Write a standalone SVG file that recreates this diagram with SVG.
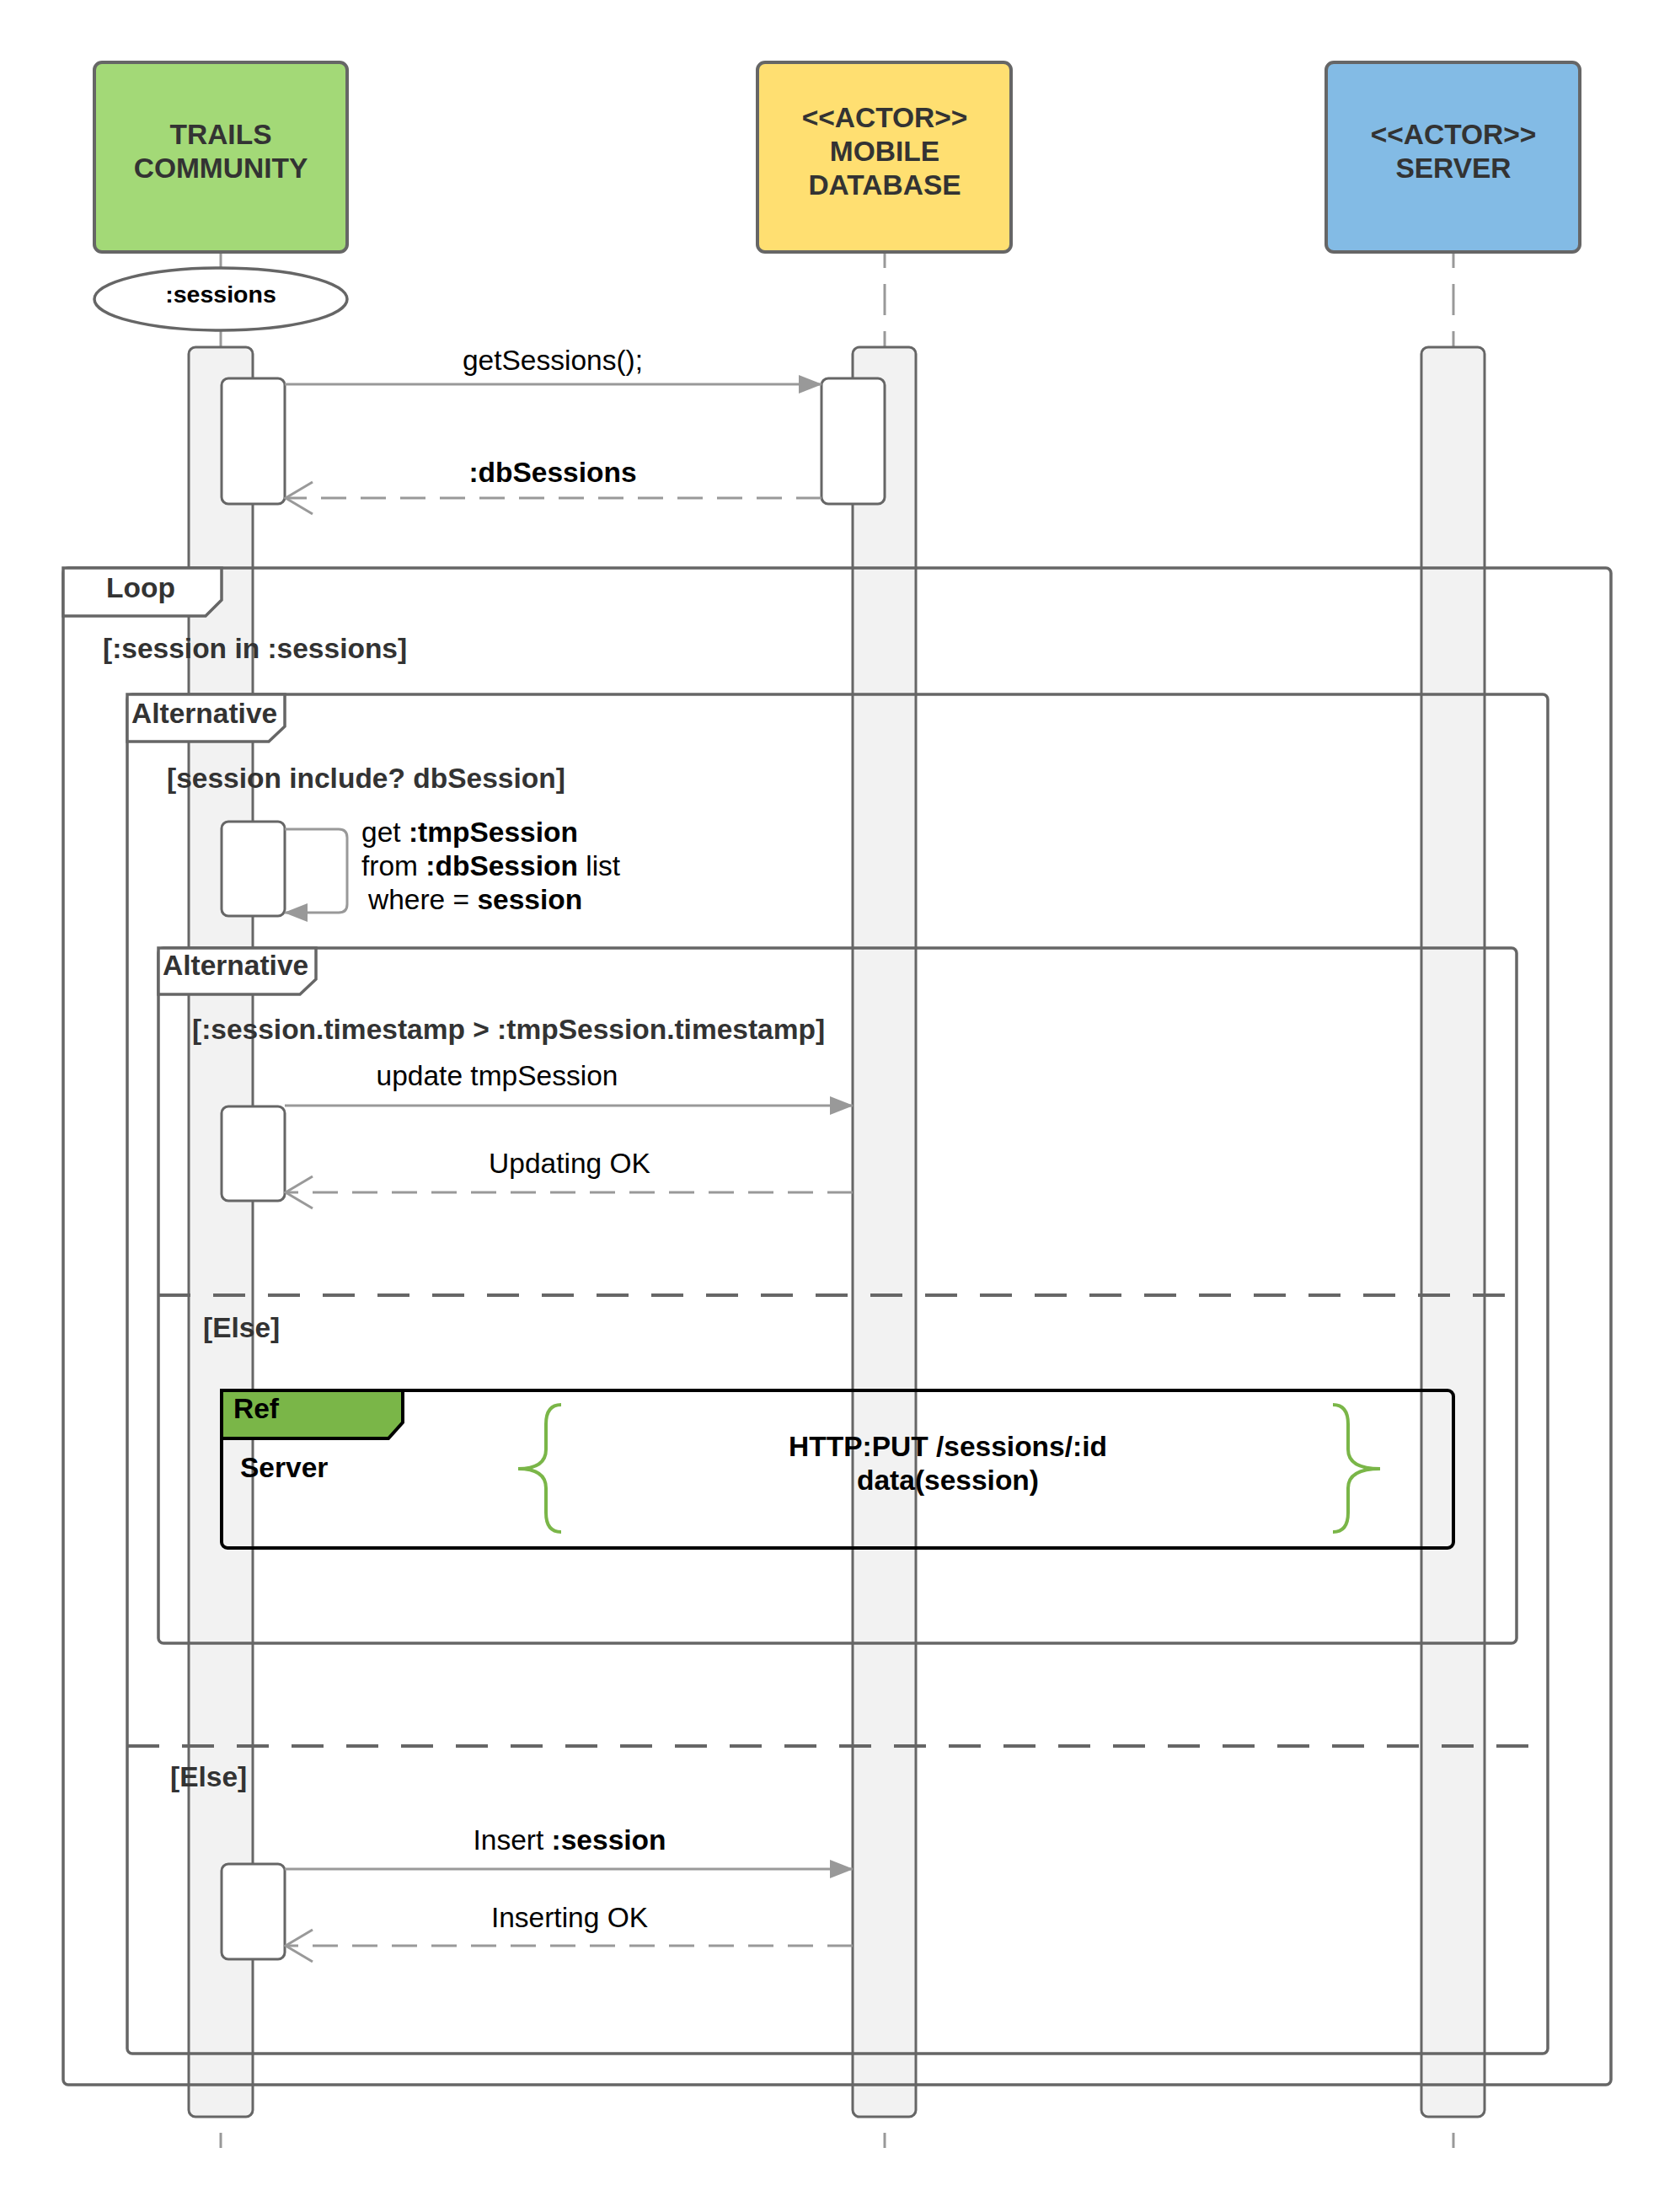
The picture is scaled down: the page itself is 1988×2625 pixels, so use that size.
<svg xmlns="http://www.w3.org/2000/svg" width="1988" height="2625" viewBox="0 0 1988 2625">
<defs>
<marker id="fillArrow" markerUnits="userSpaceOnUse" markerWidth="28" markerHeight="22" viewBox="0 0 28 22" refX="27" refY="11" orient="auto"><path d="M0,0 L28,11 L0,22 z" fill="#999"/></marker>
<marker id="openArrow" markerUnits="userSpaceOnUse" markerWidth="38" markerHeight="46" viewBox="-3 -4 38 46" refX="32" refY="19" orient="auto"><path d="M0,0 L32,19 L0,38" fill="none" stroke="#999" stroke-width="3" stroke-dasharray="none"/></marker>
<style>
.t{font-family:"Liberation Sans",Arial,sans-serif;font-size:33.5px;fill:#000}
.b{font-weight:bold}
.g{fill:#333}
.actor{stroke:#666;stroke-width:4}
.life{stroke:#999;stroke-width:3;fill:none}
.bar{fill:#f2f2f2;stroke:#666;stroke-width:3}
.act{fill:#fff;stroke:#666;stroke-width:3}
.frame{fill:none;stroke:#666;stroke-width:3.5}
.tab{fill:#fff;stroke:#666;stroke-width:3.5}
.sep{stroke:#666;stroke-width:4;stroke-dasharray:38 27;fill:none}
.msg{stroke:#999;stroke-width:3;fill:none}
.ret{stroke:#999;stroke-width:3;fill:none;stroke-dasharray:30 17}
.brace{fill:none;stroke:#7ab648;stroke-width:4}
</style>
</defs>
<rect x="0" y="0" width="1988" height="2625" fill="#fff"/>

<g id="lifelines">
  <line class="life" x1="262" y1="300" x2="262" y2="412"/>
  <line class="life" x1="1050" y1="300" x2="1050" y2="412" stroke-dasharray="37 19" stroke-dashoffset="19"/>
  <line class="life" x1="1725" y1="300" x2="1725" y2="412" stroke-dasharray="37 19" stroke-dashoffset="19"/>
  <line class="life" x1="262" y1="2531" x2="262" y2="2549"/>
  <line class="life" x1="1050" y1="2531" x2="1050" y2="2549"/>
  <line class="life" x1="1725" y1="2531" x2="1725" y2="2549"/>
  <rect class="bar" x="224" y="412" width="76" height="2100" rx="8"/>
  <rect class="bar" x="1012" y="412" width="75" height="2100" rx="8"/>
  <rect class="bar" x="1687" y="412" width="75" height="2100" rx="8"/>
</g>

<g id="actor-trails">
  <rect class="actor" x="112" y="74" width="300" height="225" rx="9" fill="#a3d977"/>
  <text class="t b g" x="262" y="171" text-anchor="middle">TRAILS</text>
  <text class="t b g" x="262" y="211" text-anchor="middle">COMMUNITY</text>
</g>
<g id="actor-db">
  <rect class="actor" x="899" y="74" width="301" height="225" rx="9" fill="#ffdf71"/>
  <text class="t b g" x="1050" y="151" text-anchor="middle">&lt;&lt;ACTOR&gt;&gt;</text>
  <text class="t b g" x="1050" y="191" text-anchor="middle">MOBILE</text>
  <text class="t b g" x="1050" y="231" text-anchor="middle">DATABASE</text>
</g>
<g id="actor-server">
  <rect class="actor" x="1574" y="74" width="301" height="225" rx="9" fill="#83bbe5"/>
  <text class="t b g" x="1725" y="171" text-anchor="middle">&lt;&lt;ACTOR&gt;&gt;</text>
  <text class="t b g" x="1725" y="211" text-anchor="middle">SERVER</text>
</g>
<g id="sessions-object">
  <ellipse cx="262" cy="355" rx="150" ry="37" fill="#fff" stroke="#666" stroke-width="3.5"/>
  <text class="t b" x="262" y="359" text-anchor="middle" style="font-size:28.5px">:sessions</text>
</g>

<g id="frame-loop">
  <rect class="frame" x="75" y="674" width="1837" height="1800" rx="6"/>
  <path class="tab" d="M75,674 L263,674 L263,712 L244,731 L75,731 Z"/>
  <text class="t b g" x="126" y="709">Loop</text>
  <text class="t b g" x="122" y="781">[:session in :sessions]</text>
</g>
<g id="frame-alt1">
  <rect class="frame" x="151" y="824" width="1686" height="1613" rx="6"/>
  <path class="tab" d="M151,824 L338,824 L338,862 L319,880 L151,880 Z"/>
  <text class="t b g" x="156" y="858">Alternative</text>
  <text class="t b g" x="198" y="935">[session include? dbSession]</text>
  <line class="sep" x1="151" y1="2072" x2="1837" y2="2072"/>
  <text class="t b g" x="202" y="2120">[Else]</text>
</g>
<g id="frame-alt2">
  <rect class="frame" x="188" y="1125" width="1612" height="825" rx="6"/>
  <path class="tab" d="M188,1125 L375,1125 L375,1162 L356,1180 L188,1180 Z"/>
  <text class="t b g" x="193" y="1157">Alternative</text>
  <text class="t b g" x="228" y="1233">[:session.timestamp &gt; :tmpSession.timestamp]</text>
  <line class="sep" x1="188" y1="1537" x2="1800" y2="1537"/>
  <text class="t b g" x="241" y="1587">[Else]</text>
</g>
<g id="frame-ref">
  <rect x="263" y="1650" width="1462" height="187" rx="7" fill="none" stroke="#000" stroke-width="4"/>
  <path d="M263,1650 L478,1650 L478,1688 L461,1707 L263,1707 Z" fill="#7ab648" stroke="#000" stroke-width="4"/>
  <text class="t b" x="277" y="1683">Ref</text>
  <text class="t b" x="285" y="1753">Server</text>
  <path class="brace" d="M666,1667 Q648,1667 648,1690 L648,1720 Q648,1743 615,1743 Q648,1743 648,1766 L648,1795 Q648,1818 666,1818"/>
  <path class="brace" d="M1582,1667 Q1600,1667 1600,1690 L1600,1720 Q1600,1743 1638,1743 Q1600,1743 1600,1766 L1600,1795 Q1600,1818 1582,1818"/>
  <text class="t b" x="1125" y="1728" text-anchor="middle">HTTP:PUT /sessions/:id</text>
  <text class="t b" x="1125" y="1768" text-anchor="middle">data(session)</text>
</g>

<g id="activations">
  <rect class="act" x="263" y="449" width="75" height="149" rx="8"/>
  <rect class="act" x="975" y="449" width="75" height="149" rx="8"/>
  <rect class="act" x="263" y="975" width="75" height="112" rx="8"/>
  <rect class="act" x="263" y="1313" width="75" height="112" rx="8"/>
  <rect class="act" x="263" y="2212" width="75" height="113" rx="8"/>
</g>

<g id="connectors">
  <line class="msg" x1="338" y1="456" x2="975" y2="456" marker-end="url(#fillArrow)"/>
  <line class="ret" x1="975" y1="591" x2="339" y2="591" marker-end="url(#openArrow)"/>
  <path class="msg" d="M338,984 L402,984 Q412,984 412,994 L412,1073 Q412,1083 402,1083 L338,1083" marker-end="url(#fillArrow)"/>
  <line class="msg" x1="338" y1="1312" x2="1012" y2="1312" marker-end="url(#fillArrow)"/>
  <line class="ret" x1="1012" y1="1415" x2="339" y2="1415" marker-end="url(#openArrow)"/>
  <line class="msg" x1="338" y1="2218" x2="1012" y2="2218" marker-end="url(#fillArrow)"/>
  <line class="ret" x1="1012" y1="2309" x2="339" y2="2309" marker-end="url(#openArrow)"/>
</g>

<g id="message-labels">
  <text class="t" x="656" y="439" text-anchor="middle">getSessions();</text>
  <text class="t b" x="656" y="572" text-anchor="middle">:dbSessions</text>
  <text class="t" x="429" y="999">get <tspan class="b">:tmpSession</tspan></text>
  <text class="t" x="429" y="1039">from <tspan class="b">:dbSession</tspan> list</text>
  <text class="t" x="437" y="1079">where = <tspan class="b">session</tspan></text>
  <text class="t" x="590" y="1288" text-anchor="middle">update tmpSession</text>
  <text class="t" x="676" y="1392" text-anchor="middle">Updating OK</text>
  <text class="t" x="676" y="2195" text-anchor="middle">Insert <tspan class="b">:session</tspan></text>
  <text class="t" x="676" y="2287" text-anchor="middle">Inserting OK</text>
</g>
</svg>
